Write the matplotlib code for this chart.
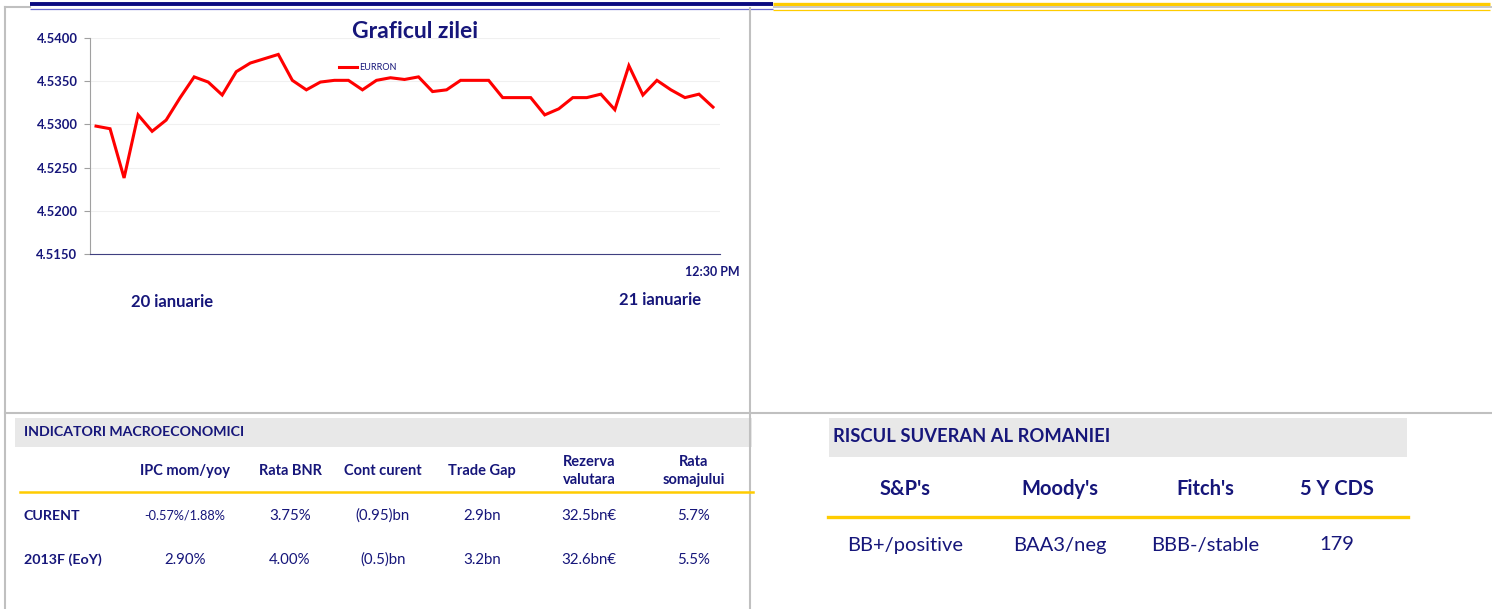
import matplotlib
matplotlib.use("Agg")
import matplotlib.pyplot as plt
from matplotlib.patches import Rectangle
from matplotlib.ticker import FormatStrFormatter

# ---------------- data ----------------
eurron = [4.5298, 4.5295, 4.5238, 4.5311, 4.5292, 4.5305, 4.5331, 4.5355, 4.5349,
          4.5334, 4.5361, 4.5371, 4.5376, 4.5381, 4.5351, 4.5340, 4.5349, 4.5351,
          4.5351, 4.5340, 4.5351, 4.5354, 4.5352, 4.5355, 4.5338, 4.5340, 4.5351,
          4.5351, 4.5351, 4.5331, 4.5331, 4.5331, 4.5311, 4.5318, 4.5331, 4.5331,
          4.5335, 4.5317, 4.5368, 4.5334, 4.5351, 4.5340, 4.5331, 4.5335, 4.5320]
y_ticks = [4.5150, 4.5200, 4.5250, 4.5300, 4.5350, 4.5400]
series_name = "EURRON"
chart_title = "Graficul zilei"
day_labels = ["20 ianuarie", "21 ianuarie"]
time_label = "12:30 PM"

macro_title = "INDICATORI MACROECONOMICI"
macro_headers = ["IPC mom/yoy", "Rata BNR", "Cont curent", "Trade Gap",
                 "Rezerva\nvalutara", "Rata\nsomajului"]
macro_rows = ["CURENT", "2013F (EoY)"]
macro_curent = ["-0.57%/1.88%", "3.75%", "(0.95)bn", "2.9bn", "32.5bn€", "5.7%"]
macro_2013 = ["2.90%", "4.00%", "(0.5)bn", "3.2bn", "32.6bn€", "5.5%"]

risk_title = "RISCUL SUVERAN AL ROMANIEI"
risk_headers = ["S&P's", "Moody's", "Fitch's", "5 Y CDS"]
risk_values = ["BB+/positive", "BAA3/neg", "BBB-/stable", "179"]

# ---------------- style ----------------
NAVY = "#16167a"
YELLOW = "#ffcc00"
GRAY = "#c0c0c0"
BAND = "#e8e8e8"
plt.rcParams['font.family'] = ['Lato', 'DejaVu Sans']

W, H = 1492, 609
fig = plt.figure(figsize=(W / 100, H / 100), dpi=100)
bg = fig.add_axes([0, 0, 1, 1])
bg.set_xlim(0, W)
bg.set_ylim(H, 0)
bg.axis("off")

# top rules
bg.plot([30, 773], [4, 4], color="#0a0a80", lw=2.8, solid_capstyle="butt")
bg.plot([30, 773], [8.5, 8.5], color="#6a6ad0", lw=0.9, solid_capstyle="butt")
bg.plot([773, 1490], [4, 4], color=YELLOW, lw=2.4, solid_capstyle="butt")
bg.plot([773, 1492], [7, 7], color=GRAY, lw=1.2, solid_capstyle="butt")
bg.plot([773, 1490], [9.5, 9.5], color=YELLOW, lw=0.9, solid_capstyle="butt")

# panel borders
bg.plot([5, 5], [7, 609], color=GRAY, lw=1.5)
bg.plot([5, 30], [7, 7], color=GRAY, lw=1.5)
bg.plot([750, 750], [8, 609], color=GRAY, lw=1.5)
bg.plot([5, 1492], [413, 413], color=GRAY, lw=1.5)

# chart texts
bg.text(415, 31, chart_title, ha="center", va="center", fontsize=16.5,
        fontweight="bold", color=NAVY)
bg.text(712, 272, time_label, ha="center", va="center", fontsize=9,
        fontweight="bold", color=NAVY)
bg.text(172, 302, day_labels[0], ha="center", va="center", fontsize=12,
        fontweight="bold", color=NAVY)
bg.text(660, 300, day_labels[1], ha="center", va="center", fontsize=12,
        fontweight="bold", color=NAVY)

# ---------------- macro table ----------------
bg.add_patch(Rectangle((15, 418), 737, 29, color=BAND, lw=0))
bg.text(24, 432, macro_title, ha="left", va="center", fontsize=10.2,
        fontweight="bold", color=NAVY)
mcols = [185, 290, 383, 482, 589, 694]
for x, h in zip(mcols, macro_headers):
    bg.text(x, 471, h, ha="center", va="center", fontsize=10.5,
            fontweight="bold", color=NAVY, linespacing=1.45)
bg.plot([20, 753], [492, 492], color=YELLOW, lw=1.8)
bg.text(24, 516, macro_rows[0], ha="left", va="center", fontsize=10.3,
        fontweight="bold", color=NAVY)
bg.text(24, 560, macro_rows[1], ha="left", va="center", fontsize=10.3,
        fontweight="bold", color=NAVY)
for i, (x, v) in enumerate(zip(mcols, macro_curent)):
    bg.text(x, 516, v, ha="center", va="center",
            fontsize=9.2 if i == 0 else 10.8, color=NAVY)
for x, v in zip(mcols, macro_2013):
    bg.text(x, 560, v, ha="center", va="center", fontsize=10.8, color=NAVY)

# ---------------- risk table ----------------
bg.add_patch(Rectangle((829, 418), 578, 39, color=BAND, lw=0))
bg.text(833, 437, risk_title, ha="left", va="center", fontsize=13.2,
        fontweight="bold", color=NAVY)
rcols = [905, 1060, 1205, 1337]
for x, h in zip(rcols, risk_headers):
    bg.text(x, 489, h, ha="center", va="center", fontsize=14.5,
            fontweight="bold", color=NAVY)
bg.plot([828, 1408], [517, 517], color=YELLOW, lw=2.4)
for x, v in zip(rcols, risk_values):
    bg.text(x, 545, v, ha="center", va="center", fontsize=14.5, color=NAVY)

# ---------------- line chart ----------------
x0, x1, yt, yb = 90, 720, 38, 254
ax = fig.add_axes([x0 / W, 1 - yb / H, (x1 - x0) / W, (yb - yt) / H])
xs = list(range(len(eurron)))
ax.plot(xs, eurron, color="#ff0000", lw=2.2, label=series_name, solid_joinstyle="miter")
ax.set_xlim(-0.43, len(eurron) - 1 + 0.5)
ax.set_ylim(y_ticks[0], y_ticks[-1])
ax.set_yticks(y_ticks)
ax.yaxis.set_major_formatter(FormatStrFormatter("%.4f"))
ax.set_xticks([])
ax.grid(axis="y", color="#f0f0f0", lw=0.8)
ax.set_axisbelow(True)
ax.patch.set_alpha(0)
for s in ("top", "right"):
    ax.spines[s].set_visible(False)
ax.spines["left"].set_color("#a0a0a0")
ax.spines["bottom"].set_color("#404080")
ax.tick_params(axis="y", length=4, color="#a0a0a0", labelsize=9.4,
               labelcolor=NAVY, pad=5)
for t in ax.get_yticklabels():
    t.set_fontweight("bold")
leg = ax.legend(loc="upper center", bbox_to_anchor=(0.441, 0.92), frameon=False,
                fontsize=6.5, handlelength=2.0, handletextpad=0.3)
for t in leg.get_texts():
    t.set_color(NAVY)

fig.savefig("out.png", dpi=100)
